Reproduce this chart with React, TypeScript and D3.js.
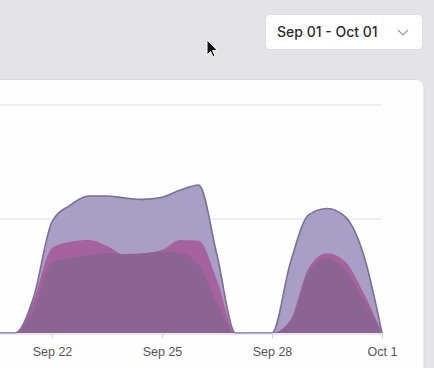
import React from 'react';
import { select, scaleTime, scaleLinear, axisBottom, area, line, curveMonotoneX, timeParse, timeFormat, timeDay } from 'd3';

// half-day samples
const stamps = [
  '2023-09-20 00:00', '2023-09-20 12:00', '2023-09-21 00:00', '2023-09-21 12:00',
  '2023-09-22 00:00', '2023-09-22 12:00', '2023-09-23 00:00', '2023-09-23 12:00',
  '2023-09-24 00:00', '2023-09-24 12:00', '2023-09-25 00:00', '2023-09-25 12:00',
  '2023-09-26 00:00', '2023-09-26 12:00', '2023-09-27 00:00', '2023-09-27 12:00',
  '2023-09-28 00:00', '2023-09-28 12:00', '2023-09-29 00:00', '2023-09-29 12:00',
  '2023-09-30 00:00', '2023-09-30 12:00', '2023-10-01 00:00',
];
const lavenderValues = [0, 0, 0, 15.8, 48.7, 56.1, 60.1, 60.1, 59.2, 58.6, 59.5, 62.7, 64.9, 34.2, 0, 0, 0, 30.7, 51.8, 54.6, 50.9, 34.2, 0];
const pinkValues = [0, 0, 0, 14.5, 37.3, 40, 40.8, 38.2, 34.2, 35, 36.4, 40.8, 40.5, 23.2, 0, 0, 0, 5.7, 28.5, 35, 31.3, 17.5, 0];
const purpleValues = [0, 0, 0, 10, 31, 32.9, 34.2, 35.1, 34.6, 35, 35.5, 35, 29.8, 13, 0, 0, 0, 5, 26.9, 32.8, 27.6, 14.5, 0];
const gridValues = [50, 100];
const rangeStart = '2023-09-01 00:00';
const rangeEnd = '2023-10-01 00:00';
const rangeLabel = 'Sep 01 - Oct 01';

const W = 434;
const H = 368;

function App() {
  const svgRef = React.useRef(null);

  React.useEffect(() => {
    const svg = select(svgRef.current);
    const parse = timeParse('%Y-%m-%d %H:%M');
    const dates = stamps.map(d => parse(d));

    const dayPx = 110 / 3;
    const right = 382;
    const xScale = scaleTime()
      .domain([parse(rangeStart), parse(rangeEnd)])
      .range([right - 30 * dayPx, right]);

    const yScale = scaleLinear()
      .domain([0, 100])
      .range([333, 105]);

    // grid
    svg
      .select('.grid')
      .selectAll('line')
      .data(gridValues)
      .join('line')
      .attr('x1', -20)
      .attr('x2', right)
      .attr('y1', d => yScale(d))
      .attr('y2', d => yScale(d))
      .attr('stroke', '#e1dde7')
      .attr('stroke-width', 1);

    // only the ticks that fall inside the visible part of the card
    const tickDates = timeDay.every(3).range(parse(rangeStart), new Date(+parse(rangeEnd) + 1))
      .filter(d => xScale(d) > 20);
    const xAxis = axisBottom(xScale)
      .tickValues(tickDates)
      .tickFormat(timeFormat('%b %-d'))
      .tickSize(5)
      .tickPadding(9);
    const gx = svg
      .select('.x-axis')
      .attr('transform', `translate(0, ${yScale(0) + 0.5})`)
      .call(xAxis);
    gx.select('.domain').attr('stroke', '#d6cfe0');
    gx.selectAll('.tick line').attr('stroke', '#d4d4d8');
    gx.selectAll('.tick text')
      .attr('fill', '#555')
      .attr('font-size', 12.5)
      .attr('font-family', '"Liberation Sans", Arial, sans-serif');

    const series = [
      { values: lavenderValues, fill: '#a99ec5', stroke: '#7a6f98', width: 1.6, opacity: 1 },
      { values: pinkValues, fill: '#a6619f', stroke: '#9c5c98', width: 1, opacity: 1 },
      { values: purpleValues, fill: '#8a6492', stroke: '#8a6492', width: 0.8, opacity: 0.97 },
    ];

    const areaGen = area()
      .x((d, i) => xScale(dates[i]))
      .y0(yScale(0))
      .y1(d => yScale(d))
      .curve(curveMonotoneX);
    const lineGen = line()
      .x((d, i) => xScale(dates[i]))
      .y(d => yScale(d))
      .curve(curveMonotoneX);

    const g = svg.select('.areas');
    g.selectAll('path.fill')
      .data(series)
      .join('path')
      .attr('class', 'fill')
      .attr('d', s => areaGen(s.values))
      .attr('fill', s => s.fill)
      .attr('fill-opacity', s => s.opacity);
    g.selectAll('path.stroke')
      .data(series.slice(0, 1))
      .join('path')
      .attr('class', 'stroke')
      .attr('d', s => lineGen(s.values))
      .attr('fill', 'none')
      .attr('stroke', s => s.stroke)
      .attr('stroke-width', s => s.width);
  }, []);

  return (
    <div style={{ position: 'absolute', left: 0, top: 0, width: W, height: H, overflow: 'hidden' }}>
      <svg ref={svgRef} width={W} height={H} style={{ display: 'block' }}>
        <rect x={0} y={0} width={W} height={H} fill="#e4e3e8" />
        {/* date picker */}
        <rect x={265.5} y={14.5} width={157} height={35} rx={5} fill="#fff" stroke="#dedde2" />
        <text x={277} y={37} fontSize={14} fontWeight={500} fill="#2b2b2b" fontFamily="Inter, 'Noto Sans', sans-serif">
          {rangeLabel}
        </text>
        <path d="M398,30 L403,35 L408,30" fill="none" stroke="#9a9aa0" strokeWidth={1.2} />
        {/* card */}
        <rect x={-20} y={79.5} width={444} height={320} rx={8} fill="#fefefe" stroke="#d9d9de" />
        <g className="grid"></g>
        <g className="areas"></g>
        <g className="x-axis"></g>
        {/* mouse pointer */}
        <path
          d="M207,40 L207,55 L210.5,51.5 L213,57 L215,56 L212.6,50.6 L217.5,50.6 Z"
          fill="#111"
          stroke="#fff"
          strokeWidth={1}
        />
      </svg>
    </div>
  );
}

export default App;
